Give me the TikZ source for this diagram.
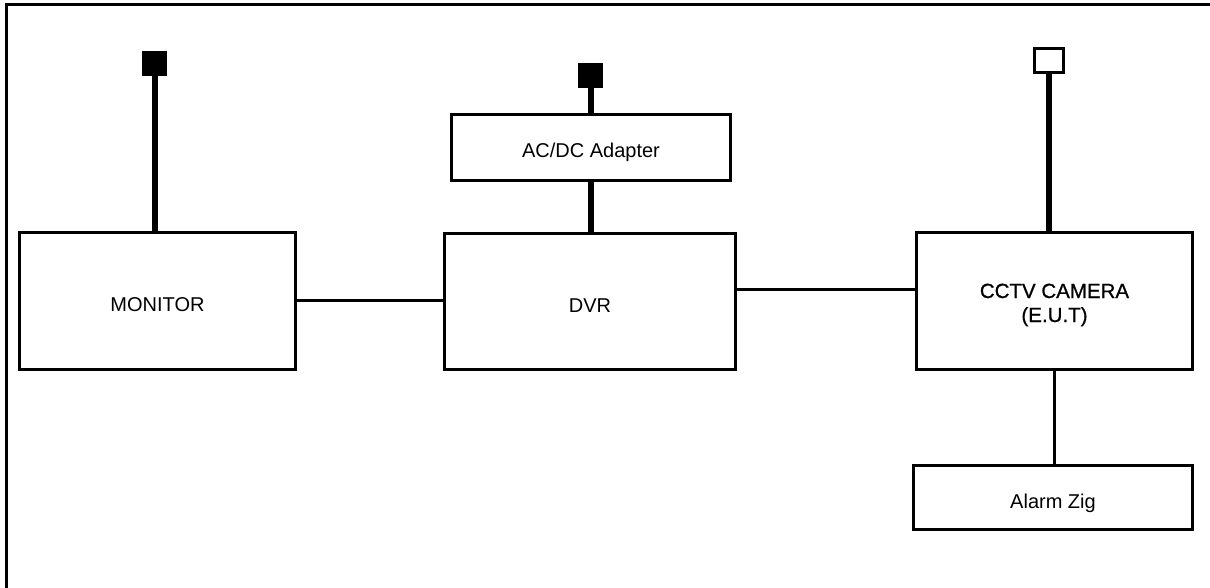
\documentclass[tikz,border=0pt]{standalone}
\usepackage{fontspec}
\setmainfont{Liberation Sans}
\begin{document}
\begin{tikzpicture}[x=1pt,y=-1pt,
  box/.style={draw,line width=3pt,rectangle,inner sep=0pt,font=\fontsize{20}{24}\selectfont,align=center,text height=21pt,text depth=0pt},
  camtext/.style={font=\fontsize{20.5}{24}\selectfont\addfontfeature{FakeBold=0.8},text height=44pt,text depth=2pt},
  plugfill/.style={draw,fill=black,line width=1pt,rectangle,inner sep=0pt,minimum width=24pt,minimum height=24pt},
  plugopen/.style={draw,fill=white,line width=3pt,rectangle,inner sep=0pt,minimum width=29pt,minimum height=24pt},
  pole/.style={line width=6pt},
  wire/.style={line width=3pt}]
\useasboundingbox (0,0) rectangle (1210,588);
% outer frame (only top and left sides visible)
\draw[line width=3pt] (6,590) -- (6,5) -- (1212,5);
% boxes
\node[box,minimum width=276pt,minimum height=137pt] (monitor) at (157.5,301) {MONITOR};
\node[box,minimum width=291pt,minimum height=136pt] (dvr) at (590,301.5) {DVR};
\node[box,minimum width=279pt,minimum height=66pt] (adapter) at (591,147.5) {AC/DC Adapter};
\node[box,camtext,minimum width=276pt,minimum height=137pt] (camera) at (1054.5,301) {CCTV CAMERA\\(E.U.T)};
\node[box,minimum width=279pt,minimum height=64pt] (alarm) at (1053,497.5) {Alarm Zig};
% plugs
\node[plugfill] (plugA) at (154.5,63.5) {};
\node[plugfill] (plugB) at (590.5,75.5) {};
\node[plugopen] (plugC) at (1049,60.5) {};
% poles
\draw[pole] (plugA.south) -- (plugA.south |- monitor.north);
\draw[pole] (plugB.south) -- (plugB.south |- adapter.north);
\draw[pole] (adapter.south) -- (adapter.south |- dvr.north);
\draw[pole] (plugC.south) -- (plugC.south |- camera.north);
% wires
\draw[wire] (monitor.east |- 0,300) -- (dvr.west |- 0,300);
\draw[wire] (dvr.east |- 0,289) -- (camera.west |- 0,289);
\draw[wire] (camera.south) -- (camera.south |- alarm.north);
\end{tikzpicture}
\end{document}
